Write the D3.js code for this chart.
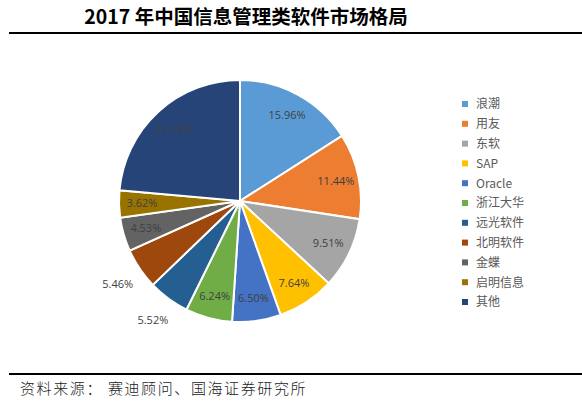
<!DOCTYPE html>
<html>
<head>
<meta charset="utf-8">
<script src="https://cdn.jsdelivr.net/npm/d3@7"></script>
<style>
  body { margin: 0; background: #fff; }
  svg { display: block; }
</style>
</head>
<body>
<div id="container"></div>
<script>
/* DATA */
const companies = ["浪潮", "用友", "东软", "SAP", "Oracle", "浙江大华", "远光软件", "北明软件", "金蝶", "启明信息", "其他"];
const shares = [15.96, 11.44, 9.51, 7.64, 6.50, 6.24, 5.52, 5.46, 4.53, 3.62, 23.58];
const colors = ["#5B9BD5", "#ED7D31", "#A5A5A5", "#FFC000", "#4472C4", "#70AD47", "#255E91", "#9E480E", "#636363", "#997300", "#264478"];
// labels that Excel put outside the pie
const outsideLabels = ["远光软件", "北明软件"];

const title = "2017 年中国信息管理类软件市场格局";
const source = "资料来源： 赛迪顾问、国海证券研究所";

/* CONSTANTS */
const width = 582;
const height = 416;
const cx = 240, cy = 201, radius = 121;

const data = companies.map((c, i) => ({ name: c, value: shares[i] }));

const svg = d3.select("#container")
  .append("svg")
  .attr("width", width)
  .attr("height", height);

// title + rules
svg.append("text")
  .attr("x", 246)
  .attr("y", 24)
  .attr("text-anchor", "middle")
  .attr("font-family", "'Noto Sans CJK SC', sans-serif")
  .attr("font-weight", "bold")
  .attr("font-size", 19.5)
  .attr("fill", "#000")
  .text(title);

svg.append("line")
  .attr("x1", 9).attr("x2", width)
  .attr("y1", 33).attr("y2", 33)
  .attr("stroke", "#000").attr("stroke-width", 2.2);

svg.append("line")
  .attr("x1", 9).attr("x2", width)
  .attr("y1", 374).attr("y2", 374)
  .attr("stroke", "#000").attr("stroke-width", 2.2);

svg.append("text")
  .attr("x", 20)
  .attr("y", 394)
  .attr("font-family", "'Noto Sans CJK SC', sans-serif")
  .attr("font-weight", 300)
  .attr("font-size", 15)
  .attr("letter-spacing", 1.6)
  .attr("fill", "#222")
  .text(source);

/* PIE */
const pie = d3.pie().value(d => d.value).sort(null);
const arc = d3.arc().innerRadius(0).outerRadius(radius);
const labelArc = d3.arc().innerRadius(radius * 0.81).outerRadius(radius * 0.81);
const outArc = d3.arc().innerRadius(radius * 1.22).outerRadius(radius * 1.22);

const color = d3.scaleOrdinal().domain(companies).range(colors);

const g = svg.append("g").attr("transform", `translate(${cx},${cy})`);

const arcs = pie(data);

g.selectAll("path")
  .data(arcs)
  .join("path")
  .attr("d", arc)
  .attr("fill", d => color(d.data.name))
  .attr("stroke", "#fff")
  .attr("stroke-width", 2);

g.selectAll("text.lbl")
  .data(arcs)
  .join("text")
  .attr("class", "lbl")
  .attr("transform", d => {
    const p = outsideLabels.includes(d.data.name) ? outArc.centroid(d) : labelArc.centroid(d);
    return `translate(${p[0]},${p[1]})`;
  })
  .attr("text-anchor", "middle")
  .attr("dy", "0.35em")
  .attr("font-family", "'Open Sans', 'Noto Sans', sans-serif")
  .attr("font-size", 11)
  .attr("fill", "#404040")
  .text(d => d.data.value.toFixed(2) + "%");

/* LEGEND */
const legendY = d3.scalePoint().domain(companies).range([104, 302]);

const legend = svg.append("g")
  .selectAll("g")
  .data(companies)
  .join("g")
  .attr("transform", d => `translate(462,${legendY(d)})`);

legend.append("rect")
  .attr("x", 0).attr("y", -3)
  .attr("width", 6).attr("height", 6)
  .attr("fill", d => color(d));

legend.append("text")
  .attr("x", 14)
  .attr("dy", "0.36em")
  .attr("font-family", "'Noto Sans CJK SC', sans-serif")
  .attr("font-size", 12)
  .attr("fill", "#595959")
  .text(d => d);
</script>
</body>
</html>
